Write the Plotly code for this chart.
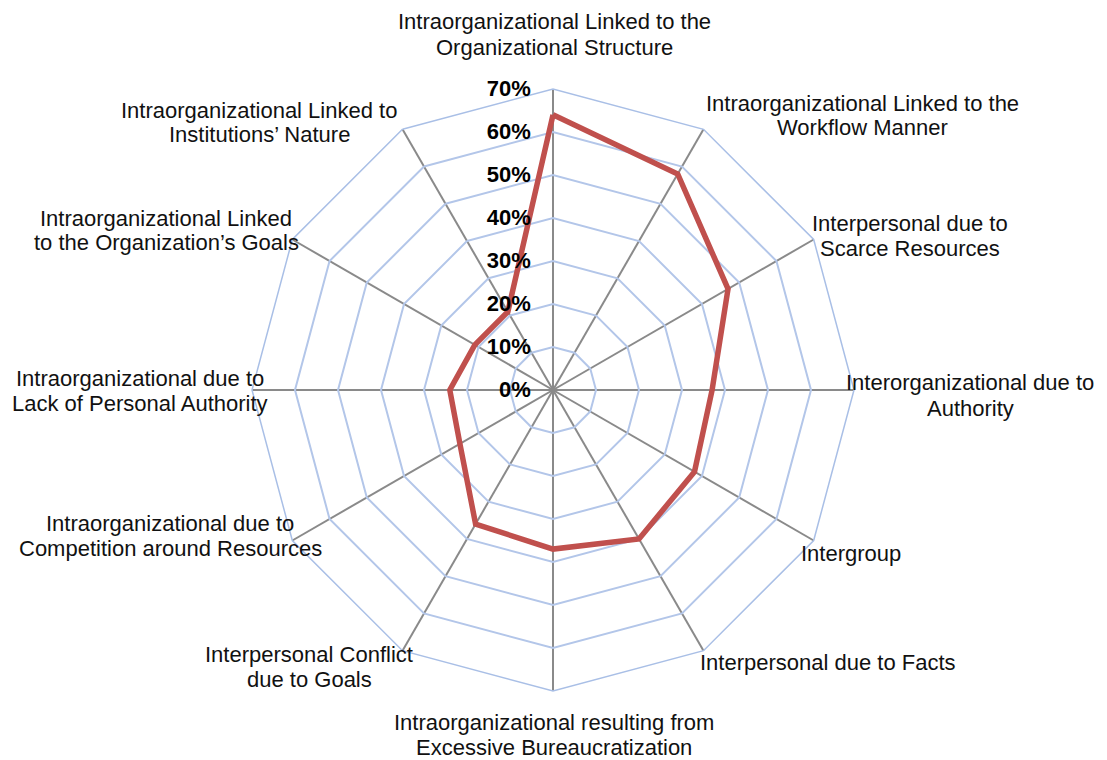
import plotly.graph_objects as go

W, H = 1107, 760

categories = [
    "Intraorganizational Linked to the<br>Organizational Structure",
    "Intraorganizational Linked to the<br>Workflow Manner",
    "Interpersonal due to<br>Scarce Resources",
    "Interorganizational due to<br>Authority",
    "Intergroup",
    "Interpersonal due to Facts",
    "Intraorganizational resulting from<br>Excessive Bureaucratization",
    "Interpersonal Conflict<br>due to Goals",
    "Intraorganizational due to<br>Competition around Resources",
    "Intraorganizational due to<br>Lack of Personal Authority",
    "Intraorganizational Linked<br>to the Organization’s Goals",
    "Intraorganizational Linked to<br>Institutions’ Nature",
]
values = [64, 58, 47, 37, 38, 40, 37, 36, 25, 24, 21, 21]
tick_values = [0, 10, 20, 30, 40, 50, 60, 70]
tick_labels = ["0%", "10%", "20%", "30%", "40%", "50%", "60%", "70%"]

# label placement: block centre x and first-line centre y, in pixels (layout only)
label_pos = [
    (554, 22),
    (862, 103),
    (910, 223),
    (970, 383),
    (851, 553),
    (828, 662),
    (554, 722),
    (309, 654),
    (170, 523),
    (140, 378),
    (166, 218),
    (259, 110),
]
LINE_GAP = 25

cx, cy, R = 553, 390, 301

fig = go.Figure()
fig.add_trace(go.Scatterpolar(
    r=values + values[:1],
    theta=categories + categories[:1],
    mode="lines",
    line=dict(color="#c0504d", width=5.5),
    showlegend=False,
    hoverinfo="skip",
))

fig.update_layout(
    width=W, height=H,
    margin=dict(l=0, r=0, t=0, b=0),
    paper_bgcolor="white",
    font=dict(family="Liberation Sans, Arial, sans-serif", color="black"),
    polar=dict(
        domain=dict(x=[(cx - R) / W, (cx + R) / W],
                    y=[(H - cy - R) / H, (H - cy + R) / H]),
        bgcolor="white",
        gridshape="linear",
        angularaxis=dict(
            type="category",
            categoryorder="array",
            categoryarray=categories,
            direction="clockwise",
            rotation=90,
            showticklabels=False,
            ticks="",
            gridcolor="#8a8a8a",
            gridwidth=1.5,
            showline=True,
            linecolor="#a9bfe6",
            linewidth=1.5,
        ),
        radialaxis=dict(
            range=[0, 70],
            tickvals=tick_values,
            ticktext=tick_labels,
            angle=90,
            side="counterclockwise",
            tickangle=90,
            showline=False,
            gridcolor="#b3c6e9",
            gridwidth=1.5,
            ticks="outside",
            ticklen=14,
            tickcolor="rgba(0,0,0,0)",
            tickfont=dict(size=22, family="Liberation Sans, Arial, sans-serif",
                          color="black", weight="bold"),
        ),
    ),
)

for text, (px, py) in zip(categories, label_pos):
    for k, line in enumerate(text.split("<br>")):
        fig.add_annotation(
            x=px / W, y=1 - (py + k * LINE_GAP) / H, xref="paper", yref="paper",
            text=line, showarrow=False, xanchor="center", yanchor="middle",
            font=dict(size=22, family="Liberation Sans, Arial, sans-serif",
                      color="#111111"),
        )

fig.write_html("out.html",
               config={"displayModeBar": False},
               post_script="document.body.style.margin='0';document.body.style.overflow='hidden';")
